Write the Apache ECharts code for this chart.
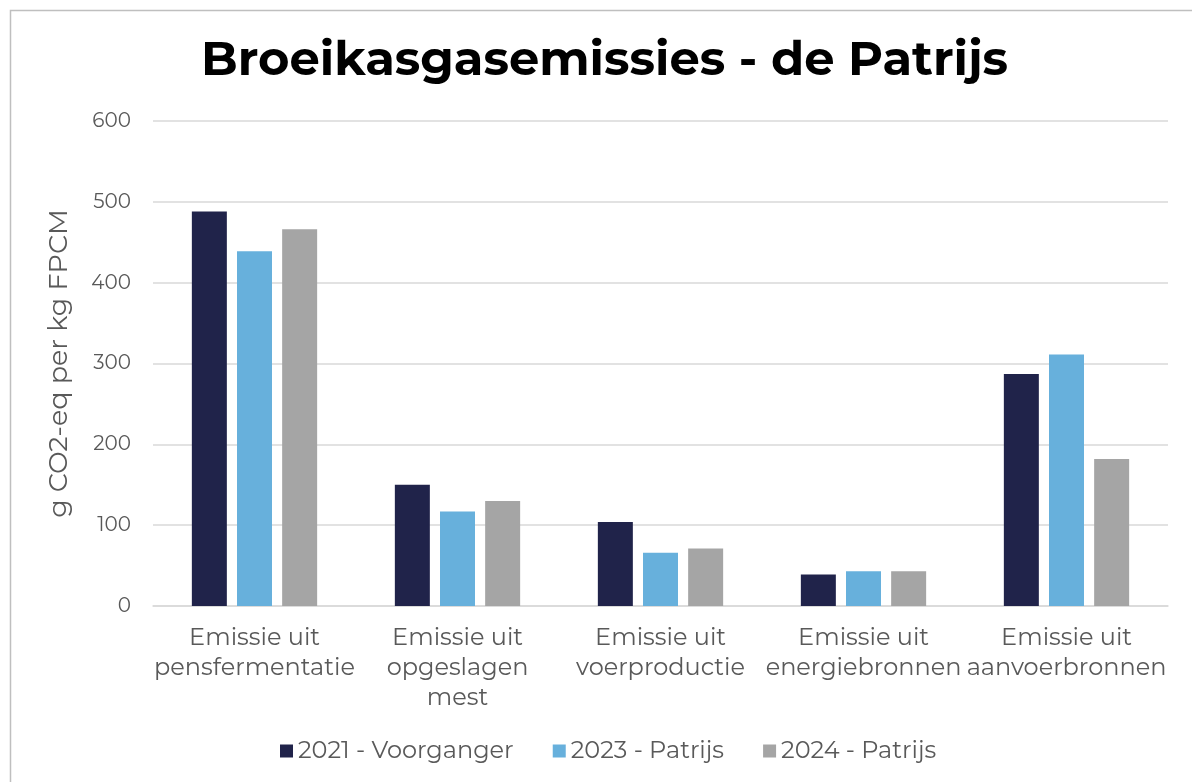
<!DOCTYPE html>
<html>
<head>
<meta charset="utf-8">
<script src="https://cdn.jsdelivr.net/npm/echarts@6/dist/echarts.min.js"></script>
<style>
  html, body { margin: 0; padding: 0; background: #fff; }
  #chart { width: 1192px; height: 782px; }
</style>
</head>
<body>
<div id="chart"></div>
<script>
// categories and values
var categories = [
  'Emissie uit\npensfermentatie',
  'Emissie uit\nopgeslagen\nmest',
  'Emissie uit\nvoerproductie',
  'Emissie uit\nenergiebronnen',
  'Emissie uit\naanvoerbronnen'
]
var seriesNames = ['2021 - Voorganger', '2023 - Patrijs', '2024 - Patrijs']
var values2021 = [488, 150, 104, 39, 287]
var values2023 = [439, 117, 66, 43, 311]
var values2024 = [466, 130, 71, 43, 182]
var colors = ['#20234A', '#67B0DC', '#A5A5A5']

var font = 'Montserrat, "Open Sans", sans-serif'
var textColor = '#595959'

var chart = echarts.init(document.getElementById('chart'))

var seriesData = [values2021, values2023, values2024]
var series = seriesData.map(function (vals, i) {
  return {
    name: seriesNames[i],
    type: 'bar',
    data: vals,
    barWidth: 35,
    barGap: '29%',
    itemStyle: { color: colors[i] }
  }
})

chart.setOption({
  animation: false,
  backgroundColor: '#fff',
  graphic: [{
    type: 'rect',
    shape: { x: 10.5, y: 10.5, width: 1400, height: 1400 },
    style: { fill: 'none', stroke: '#BFBFBF', lineWidth: 1.5 },
    silent: true
  }],
  title: {
    text: 'Broeikasgasemissies - de Patrijs',
    left: 196,
    top: 32,
    textStyle: {
      fontFamily: font,
      fontWeight: 'bold',
      fontSize: 48,
      color: '#000'
    }
  },
  legend: {
    bottom: 14,
    left: 275,
    itemWidth: 13,
    itemHeight: 13,
    itemGap: 39,
    icon: 'rect',
    textStyle: { fontFamily: font, fontSize: 24, color: textColor }
  },
  grid: {
    left: 153,
    right: 24,
    top: 121,
    bottom: 176
  },
  xAxis: {
    type: 'category',
    data: categories,
    axisTick: { show: false },
    axisLine: { lineStyle: { color: '#D9D9D9', width: 1.5 } },
    axisLabel: {
      fontFamily: font,
      fontSize: 24,
      color: textColor,
      lineHeight: 30,
      margin: 17,
      interval: 0
    }
  },
  yAxis: {
    type: 'value',
    min: 0,
    max: 600,
    interval: 100,
    name: 'g CO2-eq per kg FPCM',
    nameLocation: 'middle',
    nameGap: 80,
    nameTextStyle: { fontFamily: font, fontSize: 27, color: textColor },
    axisLabel: { fontFamily: font, fontSize: 20, color: textColor, margin: 22 },
    splitLine: { lineStyle: { color: '#D9D9D9', width: 1.5 } }
  },
  series: series
})
</script>
</body>
</html>
